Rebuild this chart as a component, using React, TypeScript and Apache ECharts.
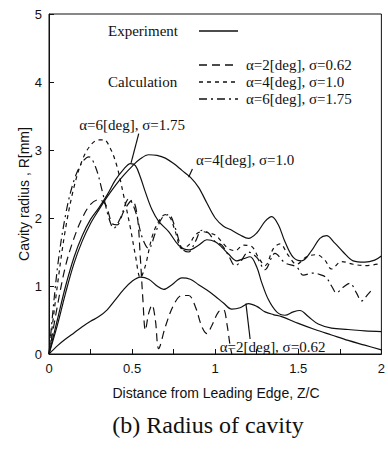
import React, { useEffect, useRef } from "react";
import * as echarts from "echarts";

// ---- Data ----
const xTicks = ["0", "0.5", "1", "1.5", "2"];
const yTicks = ["0", "1", "2", "3", "4", "5"];

// Experiment, alpha=4 deg, sigma=1.0 (solid)
const expA4X = [0,0.05,0.1,0.15,0.2,0.25,0.3,0.35,0.4,0.45,0.5,0.55,0.6,0.65,0.7,0.75,0.8,0.85,0.9,0.95,1.0,1.05,1.1,1.15,1.2,1.25,1.3,1.34,1.38,1.42,1.47,1.52,1.58,1.63,1.67,1.72,1.77,1.83,1.9,1.96,2.0];
const expA4Y = [0,0.42,0.9,1.33,1.66,1.92,2.12,2.31,2.48,2.63,2.76,2.87,2.93,2.92,2.88,2.8,2.7,2.6,2.45,2.22,2.0,1.88,1.82,1.75,1.7,1.78,1.95,2.02,1.9,1.65,1.42,1.37,1.52,1.7,1.74,1.63,1.5,1.37,1.35,1.38,1.44];

// Experiment, alpha=6 deg, sigma=1.75 (solid)
const expA6X = [0,0.05,0.1,0.15,0.2,0.25,0.3,0.35,0.4,0.45,0.49,0.52,0.55,0.58,0.62,0.66,0.72,0.78,0.84,0.9,0.95,1.0,1.04,1.08,1.13,1.17,1.21,1.25,1.28,1.32,1.37,1.42,1.47,1.51,1.56,1.62,1.7,1.8,1.9,2.0];
const expA6Y = [0,0.5,1.0,1.42,1.74,1.98,2.15,2.34,2.56,2.72,2.8,2.77,2.6,2.38,2.12,1.95,1.8,1.6,1.53,1.6,1.68,1.65,1.57,1.47,1.37,1.4,1.43,1.28,1.05,0.8,0.62,0.57,0.62,0.64,0.55,0.44,0.38,0.36,0.34,0.33];

// Experiment, alpha=2 deg, sigma=0.62 (solid)
const expA2X = [0,0.05,0.1,0.15,0.2,0.25,0.3,0.35,0.4,0.45,0.5,0.55,0.6,0.65,0.69,0.74,0.8,0.85,0.9,0.95,1.0,1.05,1.1,1.15,1.2,1.25,1.3,1.35,1.4,1.5,1.6,1.7,1.8,1.9,2.0];
const expA2Y = [0,0.12,0.22,0.31,0.4,0.48,0.55,0.65,0.8,0.95,1.07,1.13,1.1,1.0,0.95,1.02,1.12,1.1,1.02,0.94,0.85,0.75,0.66,0.68,0.74,0.7,0.62,0.58,0.55,0.45,0.36,0.28,0.2,0.13,0.06];

// Calculation, alpha=2 deg, sigma=0.62 (long dash)
const calcA2X = [0,0.05,0.1,0.15,0.2,0.25,0.3,0.34,0.38,0.41,0.45,0.5,0.53,0.55,0.565,0.58,0.6,0.62,0.64,0.66,0.7,0.75,0.8,0.84,0.88,0.92,0.95,0.98,1.02,1.05,1.07,1.09,1.1];
const calcA2Y = [0,0.7,1.3,1.7,2.0,2.2,2.27,2.2,1.92,1.9,2.1,2.26,2.05,1.4,0.8,0.35,0.6,0.72,0.5,0.08,0.4,0.72,0.86,0.86,0.7,0.4,0.3,0.42,0.62,0.65,0.45,0.12,0];

// Calculation, alpha=4 deg, sigma=1.0 (short dash)
const calcA4X = [0,0.05,0.1,0.15,0.2,0.25,0.3,0.33,0.37,0.41,0.45,0.49,0.52,0.55,0.58,0.62,0.66,0.7,0.73,0.76,0.8,0.84,0.88,0.92,0.96,1.0,1.04,1.08,1.12,1.17,1.22,1.26,1.3,1.35,1.39,1.44,1.49,1.55,1.61,1.66,1.7,1.76,1.83,1.9,2.0];
const calcA4Y = [0,1.0,1.85,2.45,2.85,3.07,3.15,3.15,3.02,2.75,2.32,1.85,1.45,1.12,1.3,1.72,1.95,2.05,2.0,1.8,1.55,1.6,1.75,1.8,1.78,1.75,1.65,1.55,1.52,1.6,1.58,1.42,1.3,1.55,1.62,1.45,1.32,1.43,1.46,1.38,1.25,1.36,1.32,1.3,1.33];

// Calculation, alpha=6 deg, sigma=1.75 (dash-dot)
const calcA6X = [0,0.05,0.1,0.15,0.2,0.24,0.28,0.32,0.36,0.39,0.43,0.48,0.52,0.56,0.6,0.64,0.68,0.72,0.76,0.8,0.84,0.88,0.92,0.96,1.0,1.04,1.08,1.12,1.15,1.2,1.25,1.3,1.36,1.42,1.49,1.53,1.59,1.64,1.67,1.7,1.73,1.77,1.81,1.85,1.88,1.92,1.95];
const calcA6Y = [0,1.25,2.05,2.55,2.82,2.9,2.75,2.4,2.0,1.85,2.0,2.28,2.1,1.72,1.55,1.78,2.0,2.05,1.85,1.55,1.5,1.65,1.82,1.78,1.65,1.6,1.45,1.3,1.35,1.5,1.42,1.24,1.48,1.34,1.28,1.16,1.19,1.16,1.12,1.0,0.9,0.98,1.04,0.9,0.78,0.88,0.97];

// Annotations (data coordinates): text anchor, pointer start, pointer end
const annotLabels = ["α=6[deg], σ=1.75", "α=4[deg], σ=1.0", "α=2[deg], σ=0.62"];
const annotText = [[0.5, 3.37], [1.18, 2.85], [1.345, 0.1]];
const annotFrom = [[0.54, 3.24], [0.863, 2.72], [1.21, 0.22]];
const annotTo = [[0.494, 2.81], [0.84, 2.6], [1.185, 0.74]];

const legendCalcLabels = ["α=2[deg], σ=0.62", "α=4[deg], σ=1.0", "α=6[deg], σ=1.75"];

const INK = "#111";
const SERIF = "'Liberation Serif', 'Times New Roman', serif";
const SANS = "'Liberation Sans', Arial, sans-serif";
const DASH_LONG = [8, 5];
const DASH_SHORT = [4, 4];
const DASH_DOT = [8, 4, 2, 4];

function pairs(xs: number[], ys: number[]) {
  return xs.map((x, i) => [x, ys[i]]);
}

function lineSeries(name: string, xs: number[], ys: number[], dash: any) {
  return {
    name,
    type: "line",
    data: pairs(xs, ys),
    showSymbol: false,
    smooth: 0.35,
    lineStyle: { color: INK, width: 1.2, type: dash },
    z: 3,
  };
}

export default function App() {
  const ref = useRef<HTMLDivElement>(null);
  useEffect(() => {
    const el = ref.current!;
    const chart = echarts.init(el, null, { renderer: "svg" });
    chart.setOption({
      animation: false,
      backgroundColor: "#fff",
      grid: {
        left: 49, right: 2, top: 14, bottom: 96,
        show: true, borderColor: INK, borderWidth: 1, backgroundColor: "transparent",
      },
      xAxis: {
        type: "value", min: 0, max: 2, interval: 0.5,
        axisLine: { show: true, lineStyle: { color: INK, width: 1 } },
        axisTick: { show: true, inside: true, length: 5, lineStyle: { color: INK } },
        minorTick: { show: true, splitNumber: 2, length: 5, lineStyle: { color: INK } },
        splitLine: { show: false },
        axisLabel: {
          color: INK, fontFamily: SANS, fontSize: 13, margin: 8,
          formatter: (v: number) => xTicks[Math.round(v / 0.5)] ?? String(v),
        },
      },
      yAxis: {
        type: "value", min: 0, max: 5, interval: 1,
        axisLine: { show: true, lineStyle: { color: INK, width: 1 } },
        axisTick: { show: true, inside: true, length: 5, lineStyle: { color: INK } },
        splitLine: { show: false },
        axisLabel: {
          color: INK, fontFamily: SANS, fontSize: 13, margin: 7,
          formatter: (v: number) => yTicks[Math.round(v)] ?? String(v),
        },
      },
      series: [
        lineSeries("Experiment α=4", expA4X, expA4Y, "solid"),
        lineSeries("Experiment α=6", expA6X, expA6Y, "solid"),
        lineSeries("Experiment α=2", expA2X, expA2Y, "solid"),
        lineSeries("Calculation α=2", calcA2X, calcA2Y, DASH_LONG),
        lineSeries("Calculation α=4", calcA4X, calcA4Y, DASH_SHORT),
        lineSeries("Calculation α=6", calcA6X, calcA6Y, DASH_DOT),
      ],
    });

    const toPx = (p: number[]) => chart.convertToPixel({ gridIndex: 0 }, p) as number[];
    const graphics: any[] = [];

    // Legend
    const legendText = (text: string, x: number, y: number) => ({
      type: "text", x, y,
      style: { text, fill: INK, font: `15px ${SERIF}`, align: "left", verticalAlign: "middle" },
      z: 10,
    });
    const legendLine = (y: number, dash: any) => ({
      type: "line",
      shape: { x1: 199, y1: y, x2: 238, y2: y },
      style: { stroke: INK, lineWidth: 1.5, lineDash: dash },
      z: 10,
    });
    graphics.push(legendText("Experiment", 108, 31));
    graphics.push(legendLine(31, null));
    graphics.push(legendText("Calculation", 108, 82));
    const legendYs = [65, 82, 99];
    const dashes = [DASH_LONG, DASH_SHORT, DASH_DOT];
    legendYs.forEach((y, i) => {
      graphics.push(legendLine(y, dashes[i]));
      graphics.push(legendText(legendCalcLabels[i], 246, y));
    });

    // Annotations
    annotLabels.forEach((label, i) => {
      const t = toPx(annotText[i]);
      const a = toPx(annotFrom[i]);
      const b = toPx(annotTo[i]);
      graphics.push({
        type: "text", x: t[0], y: t[1],
        style: { text: label, fill: INK, font: `15px ${SERIF}`, align: "center", verticalAlign: "middle" },
        z: 10,
      });
      graphics.push({
        type: "line",
        shape: { x1: a[0], y1: a[1], x2: b[0], y2: b[1] },
        style: { stroke: INK, lineWidth: 1.2 },
        z: 10,
      });
    });

    // Axis names and caption
    graphics.push({
      type: "text", x: 24, y: 194, rotation: Math.PI / 2,
      style: { text: "Cavity radius , R[mm]", fill: INK, font: `14px ${SANS}`, align: "center", verticalAlign: "middle" },
    });
    graphics.push({
      type: "text", x: 216, y: 393,
      style: { text: "Distance from Leading Edge, Z/C", fill: INK, font: `14px ${SANS}`, align: "center", verticalAlign: "middle" },
    });
    graphics.push({
      type: "text", x: 208, y: 425,
      style: { text: "(b) Radius of cavity", fill: INK, font: `24px ${SERIF}`, align: "center", verticalAlign: "middle" },
    });

    chart.setOption({ graphic: graphics });
    return () => chart.dispose();
  }, []);
  return (
    <div
      ref={ref}
      style={{ position: "fixed", left: 0, top: 0, width: 388, height: 450, background: "#fff" }}
    />
  );
}
